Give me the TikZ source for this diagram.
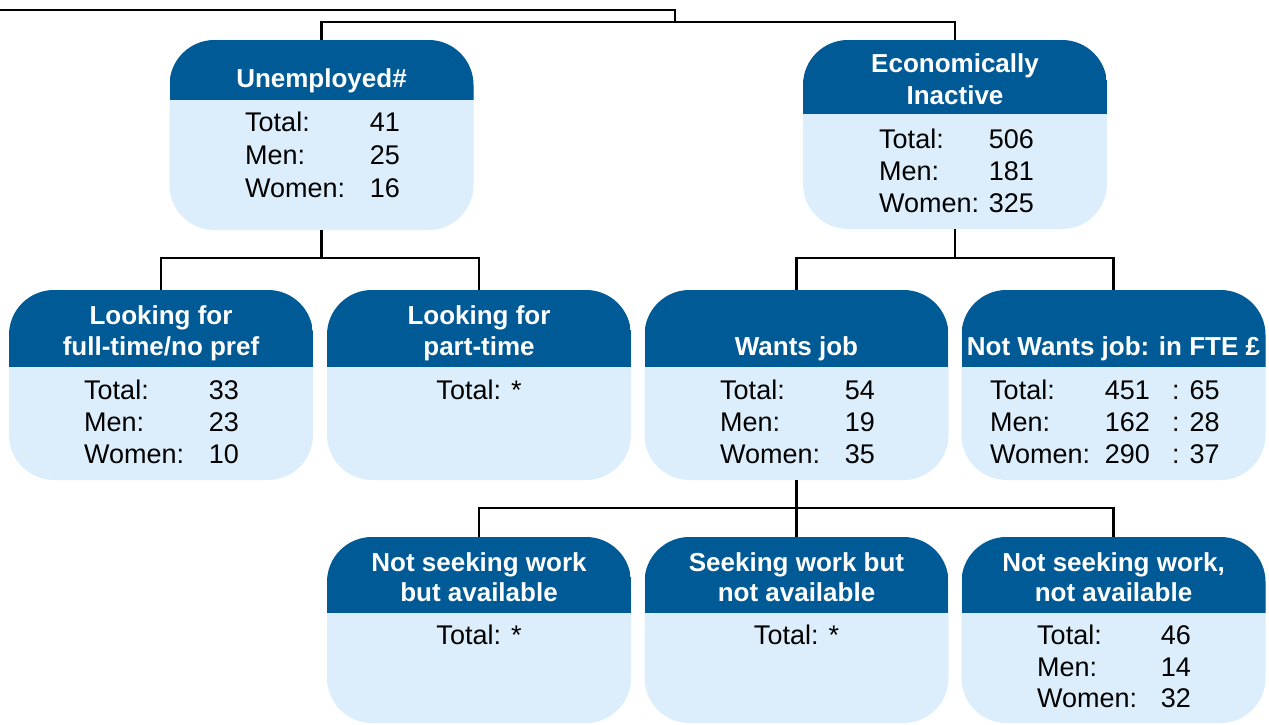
\documentclass[tikz,border=0pt]{standalone}
\usepackage{fontspec}
\setmainfont{Liberation Sans}
\definecolor{darkb}{RGB}{0,90,150}
\definecolor{lightb}{RGB}{220,238,252}
\newcommand\hfnt{\bfseries\fontsize{26}{31}\selectfont}
\newcommand\rfnt{\fontsize{27}{32}\selectfont}
\tikzset{
 cbox/.style={rectangle, draw=none, fill=lightb, rounded corners=45pt, minimum width=304pt, inner sep=0pt},
 hdr/.style={path picture={\fill[darkb, sharp corners] (path picture bounding box.north west) rectangle ([yshift=-#1]path picture bounding box.north east);}},
 conn/.style={draw=black, line width=2.5pt},
 hd/.style={anchor=base, inner sep=0pt, text=white, font=\hfnt},
 lab/.style={anchor=base west, inner sep=0pt, font=\rfnt},
 num/.style={anchor=base east, inner sep=0pt, font=\rfnt},
 ctr/.style={anchor=base, inner sep=0pt, font=\rfnt},
}
\begin{document}
\begin{tikzpicture}[x=1pt,y=-1pt]
\useasboundingbox (0,0) rectangle (1269,725);
% boxes
\node[cbox, minimum height=190pt, hdr=60pt] (unemp) at (321.5,135) {};
\node[cbox, minimum height=189pt, hdr=74pt] (econ) at (955,134.5) {};
\node[cbox, minimum height=190pt, hdr=77pt] (lft) at (161,385) {};
\node[cbox, minimum height=190pt, hdr=77pt] (lpt) at (479,385) {};
\node[cbox, minimum height=190pt, hdr=77pt] (wants) at (796.5,385) {};
\node[cbox, minimum height=190pt, hdr=77pt] (notw) at (1113.5,385) {};
\node[cbox, minimum height=186pt, hdr=76pt] (nsa) at (479,630) {};
\node[cbox, minimum height=186pt, hdr=76pt] (sna) at (796.5,630) {};
\node[cbox, minimum height=186pt, hdr=76pt] (nsna) at (1113.5,630) {};
% connectors
\coordinate (t0) at (0,10);
\coordinate (t1) at (675,22);
\draw[conn] (t0) -| (t1);
\draw[conn] (unemp.north) |- (t1) -| (econ.north);
\draw[conn] (unemp.south) -- ++(0,28) coordinate (j1);
\draw[conn] (lft.north) |- (j1) -| (lpt.north);
\draw[conn] (econ.south) -- ++(0,29) coordinate (j2);
\draw[conn] (wants.north) |- (j2) -| (notw.north);
\draw[conn] (wants.south) -- ++(0,28) coordinate (j3);
\draw[conn] (nsa.north) |- (j3) -| (nsna.north);
\draw[conn] (j3) -- (sna.north);
% unemployed
\node[hd] (uh) at (321.5,88) {Unemployed\#};
\node[lab] (ul1) at (245,131) {Total:};
\node[lab] (ul2) at (245,164) {Men:};
\node[lab] (ul3) at (245,197) {Women:};
\node[num] (un1) at (400,131) {41};
\node[num] (un2) at (400,164) {25};
\node[num] (un3) at (400,197) {16};
% econ inactive
\node[hd] (eh1) at (955,73) {Economically};
\node[hd] (eh2) at (955,104) {Inactive};
\node[lab] (el1) at (879,148) {Total:};
\node[lab] (el2) at (879,180) {Men:};
\node[lab] (el3) at (879,212) {Women:};
\node[num] (en1) at (1034,148) {506};
\node[num] (en2) at (1034,180) {181};
\node[num] (en3) at (1034,212) {325};
% looking full-time
\node[hd] (fh1) at (161,324) {Looking for};
\node[hd] (fh2) at (161,355) {full-time/no pref};
\node[lab] (fl1) at (84,399) {Total:};
\node[lab] (fl2) at (84,431) {Men:};
\node[lab] (fl3) at (84,463) {Women:};
\node[num] (fn1) at (239,399) {33};
\node[num] (fn2) at (239,431) {23};
\node[num] (fn3) at (239,463) {10};
% looking part-time
\node[hd] (ph1) at (479,324) {Looking for};
\node[hd] (ph2) at (479,355) {part-time};
\node[ctr] (pt) at (479,399) {Total: *};
% wants job
\node[hd] (wh) at (796.5,355) {Wants job};
\node[lab] (wl1) at (720,399) {Total:};
\node[lab] (wl2) at (720,431) {Men:};
\node[lab] (wl3) at (720,463) {Women:};
\node[num] (wn1) at (875,399) {54};
\node[num] (wn2) at (875,431) {19};
\node[num] (wn3) at (875,463) {35};
% not wants job
\node[hd] (nh) at (1113.5,355) {Not Wants job: in FTE £};
\node[lab] (nl1) at (990,399) {Total:};
\node[lab] (nl2) at (990,431) {Men:};
\node[lab] (nl3) at (990,463) {Women:};
\node[num] (nn1) at (1150,399) {451};
\node[num] (nn2) at (1150,431) {162};
\node[num] (nn3) at (1150,463) {290};
\node[lab] (nf1) at (1172,399) {: 65};
\node[lab] (nf2) at (1172,431) {: 28};
\node[lab] (nf3) at (1172,463) {: 37};
% not seeking but available
\node[hd] (ah1) at (479,571) {Not seeking work};
\node[hd] (ah2) at (479,601) {but available};
\node[ctr] (at) at (479,644) {Total: *};
% seeking but not available
\node[hd] (bh1) at (796.5,571) {Seeking work but};
\node[hd] (bh2) at (796.5,601) {not available};
\node[ctr] (bt) at (796.5,644) {Total: *};
% not seeking, not available
\node[hd] (ch1) at (1113.5,571) {Not seeking work,};
\node[hd] (ch2) at (1113.5,601) {not available};
\node[lab] (cl1) at (1037,644) {Total:};
\node[lab] (cl2) at (1037,676) {Men:};
\node[lab] (cl3) at (1037,707) {Women:};
\node[num] (cn1) at (1191,644) {46};
\node[num] (cn2) at (1191,676) {14};
\node[num] (cn3) at (1191,707) {32};
\end{tikzpicture}
\end{document}
